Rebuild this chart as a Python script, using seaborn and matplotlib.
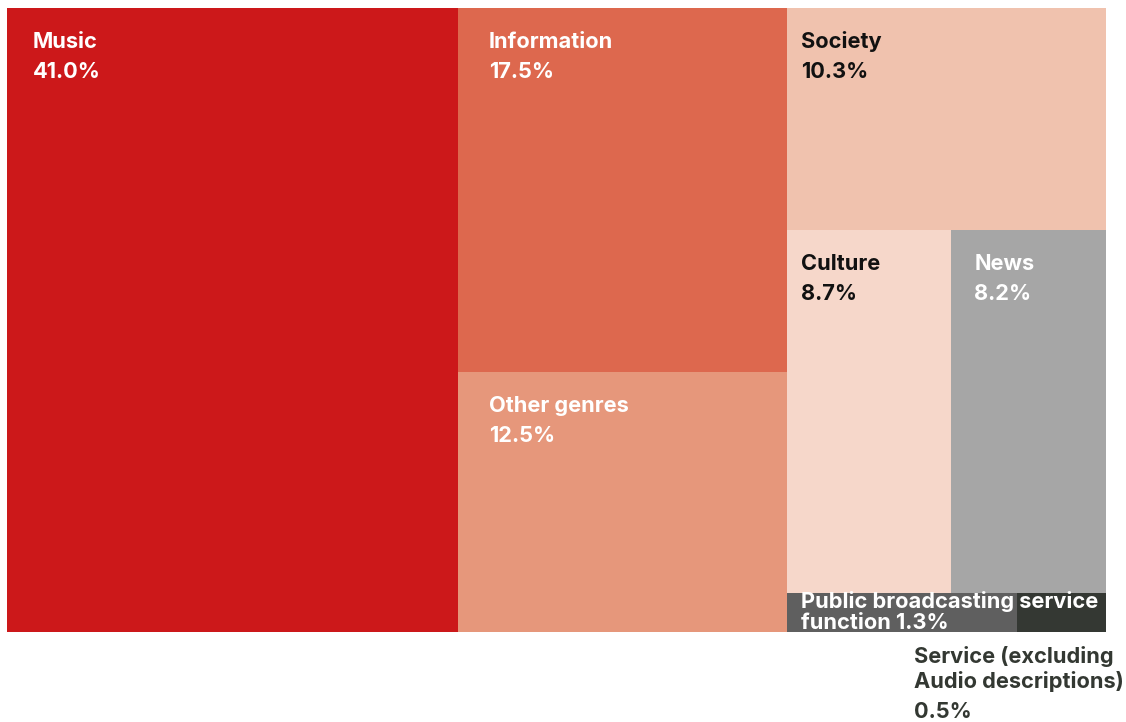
import matplotlib
matplotlib.use("Agg")
import matplotlib.pyplot as plt
from matplotlib.patches import Rectangle
import seaborn as sns

# Share of broadcast time by programme genre (%)
categories = ["Music", "Information", "Other genres", "Society", "Culture", "News",
              "Public broadcasting service function", "Service (excluding Audio descriptions)"]
shares = [41.0, 17.5, 12.5, 10.3, 8.7, 8.2, 1.3, 0.5]

# Nesting of the tiles: top level splits across, each nested list flips direction
tree = [0, [1, 2], [3, [4, 5], [6, 7]]]

colors = ["#cc181a", "#dd684e", "#e6977b", "#f0c2ae", "#f6d7ca", "#a6a6a6", "#5f5f5f", "#343833"]
text_colors = ["white", "white", "white", "#111111", "#111111", "white", "white", "#333832"]
pad_x = [26, 31, 31, 14, 14, 23, 14, -103]

sns.set_theme(style="white")
plt.rcParams["font.family"] = ["Inter", "DejaVu Sans"]

W, H = 1099.0, 624.0
fig = plt.figure(figsize=(11.26, 7.22), dpi=100)
ax = fig.add_axes([7 / 1126, (722 - 632) / 722, W / 1126, H / 722])
ax.set_xlim(0, W)
ax.set_ylim(H, 0)
ax.axis("off")


def total(node):
    if isinstance(node, list):
        return sum(total(n) for n in node)
    return shares[node]


rects = {}


def layout(node, x, y, w, h, across):
    if not isinstance(node, list):
        rects[node] = (x, y, w, h)
        return
    s = total(node)
    pos = 0.0
    for child in node:
        frac = total(child) / s
        if across:
            layout(child, x + pos * w, y, frac * w, h, not across)
        else:
            layout(child, x, y + pos * h, w, frac * h, not across)
        pos += frac


layout(tree, 0, 0, W, H, True)

for i, (x, y, w, h) in rects.items():
    ax.add_patch(Rectangle((x, y), w, h, facecolor=colors[i], edgecolor="none"))

fs = 15.7
for i, (x, y, w, h) in rects.items():
    kw = dict(xy=(x, y), textcoords="offset pixels", fontsize=fs, fontweight="bold",
              color=text_colors[i], ha="left", va="baseline", annotation_clip=False)
    if i == 6:
        ax.annotate("Public broadcasting service", xytext=(pad_x[i], -15), **kw)
        ax.annotate(f"function {shares[i]:.1f}%", xytext=(pad_x[i], -36), **kw)
    elif i == 7:
        kw["xy"] = (x, y + h)
        ax.annotate("Service (excluding", xytext=(pad_x[i], -31), **kw)
        ax.annotate("Audio descriptions)", xytext=(pad_x[i], -56), **kw)
        ax.annotate(f"{shares[i]:.1f}%", xytext=(pad_x[i], -86), **kw)
    else:
        ax.annotate(categories[i], xytext=(pad_x[i], -40), **kw)
        ax.annotate(f"{shares[i]:.1f}%", xytext=(pad_x[i], -70), **kw)

fig.savefig("out.png", dpi=100, facecolor="white")
